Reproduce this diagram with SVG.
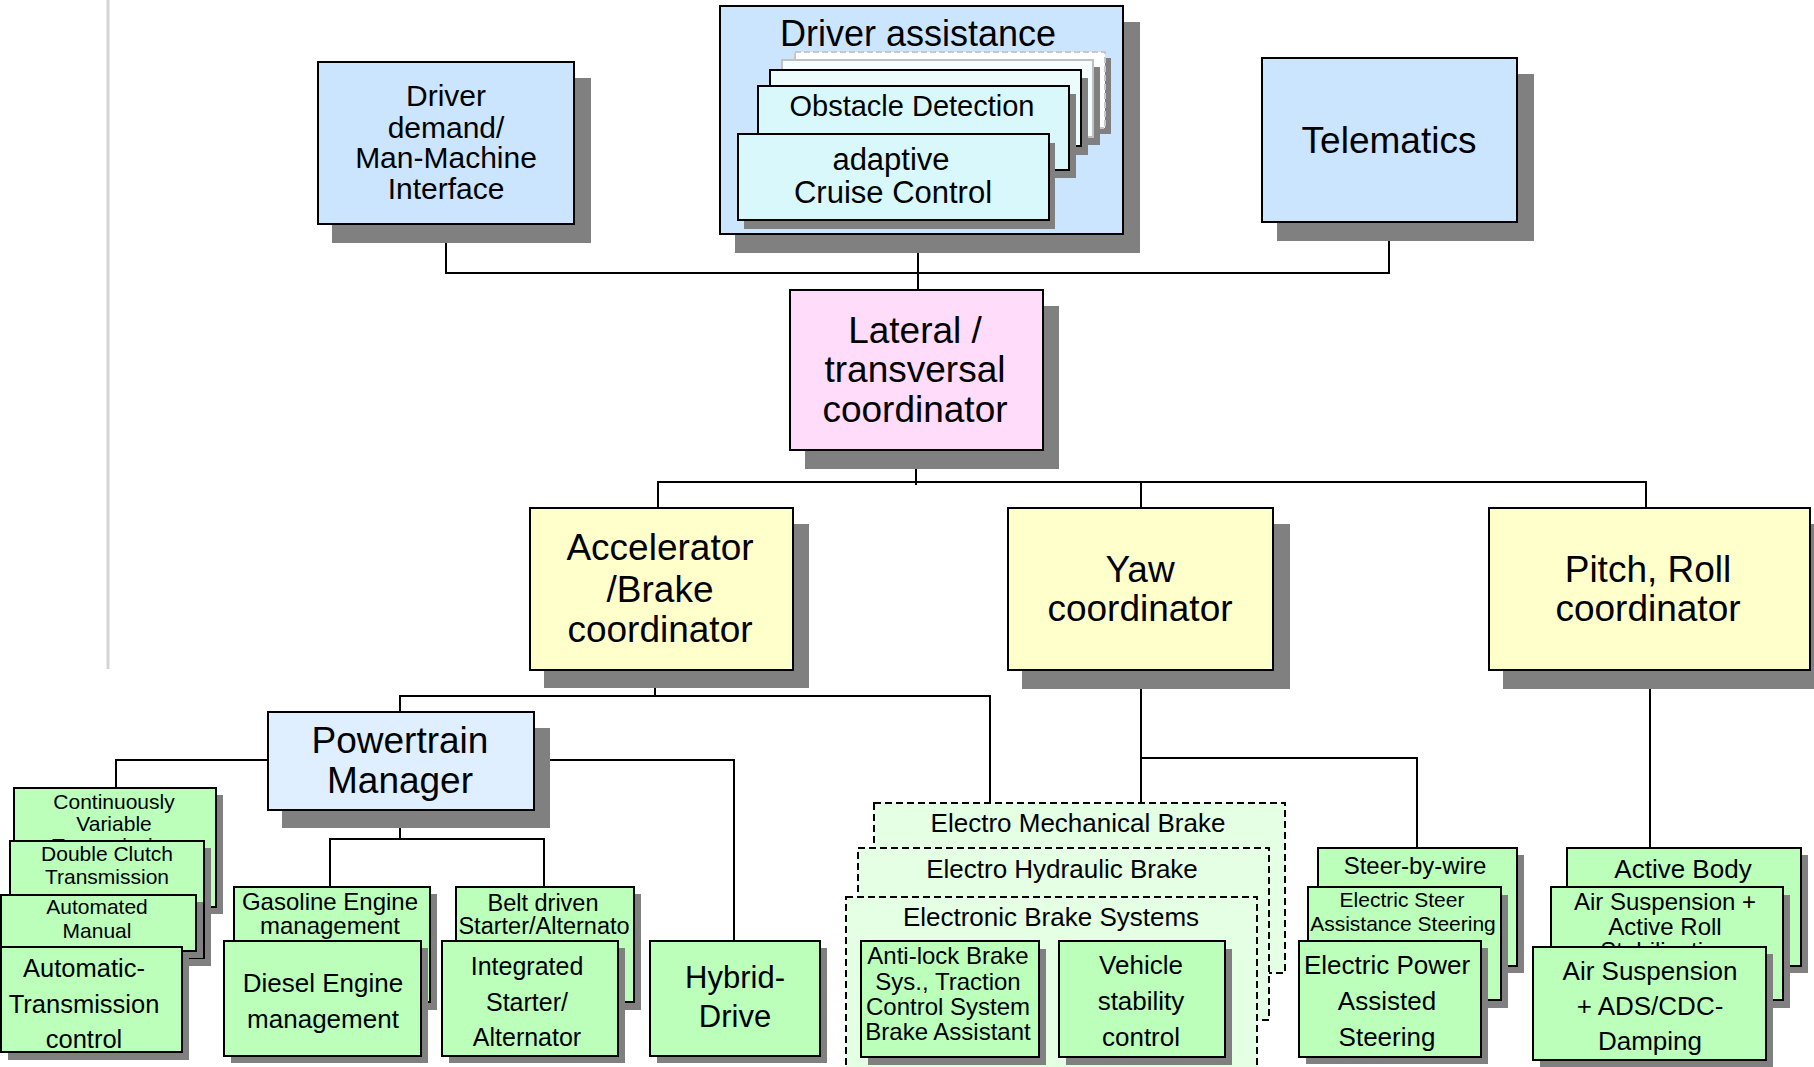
<svg xmlns="http://www.w3.org/2000/svg" width="1814" height="1067" viewBox="0 0 1814 1067">
<style>
text{font-family:"Liberation Sans",Arial,sans-serif;fill:#000;text-anchor:middle}
.sh{fill:#808080}
.bx{stroke:#000;stroke-width:2}
.blue{fill:#cce5ff}
.pm{fill:#dfefff}
.pink{fill:#ffdcfa}
.yel{fill:#ffffcc}
.grn{fill:#bbffbb}
.cyan{fill:#d8f8fc}
.dash{fill:#e4ffe4;stroke:#000;stroke-width:2;stroke-dasharray:7 4}
.ln{fill:none;stroke:#000;stroke-width:2}
</style>
<defs>
<clipPath id="clipCVT"><rect x="14" y="788" width="202" height="53"/></clipPath>
<clipPath id="clipAM"><rect x="1" y="895" width="195" height="52"/></clipPath>
<clipPath id="clipASARS"><rect x="1551" y="887" width="232" height="60"/></clipPath>
</defs>
<rect x="0" y="0" width="1814" height="1067" fill="#fff"/>
<line x1="108" y1="0" x2="108" y2="669" stroke="#d4d4d4" stroke-width="3"/>

<g id="connectors" class="ln">
<polyline points="446,224 446,273 1389,273 1389,222"/>
<line x1="918" y1="234" x2="918" y2="290"/>
<line x1="916" y1="450" x2="916" y2="485"/>
<polyline points="658,508 658,482 1646,482 1646,508"/>
<line x1="1141" y1="482" x2="1141" y2="508"/>
<line x1="655" y1="670" x2="655" y2="696"/>
<polyline points="400,712 400,696 990,696 990,803"/>
<polyline points="268,760 116,760 116,788"/>
<polyline points="534,760 734,760 734,941"/>
<line x1="400" y1="810" x2="400" y2="839"/>
<polyline points="330,887 330,839 544,839 544,887"/>
<line x1="1141" y1="670" x2="1141" y2="803"/>
<polyline points="1141,758 1417,758 1417,848"/>
<line x1="1650" y1="670" x2="1650" y2="848"/>
</g>

<g id="driver-demand">
<rect class="sh" x="332" y="78" width="259" height="165"/>
<rect class="bx blue" x="318" y="62" width="256" height="162"/>
<text font-size="30"><tspan x="446" y="106">Driver</tspan><tspan x="446" y="138">demand/</tspan><tspan x="446" y="168">Man-Machine</tspan><tspan x="446" y="199">Interface</tspan></text>
</g>

<g id="driver-assistance">
<rect class="sh" x="735" y="22" width="405" height="231"/>
<rect class="bx blue" x="720" y="6" width="403" height="228"/>
<text font-size="36" x="918" y="46">Driver assistance</text>
<rect class="sh" x="801" y="58" width="310" height="76"/>
<rect x="795" y="52" width="310" height="76" fill="#fff" stroke="#c8c8c8" stroke-width="2" stroke-dasharray="6 3"/>
<rect class="sh" x="788" y="67" width="312" height="78"/>
<rect x="782" y="60" width="311" height="77" fill="#f4fefe" stroke="#c0c0c0" stroke-width="2"/>
<rect class="sh" x="777" y="78" width="311" height="77"/>
<rect class="bx" x="770" y="70" width="311" height="76" fill="#ecfcfc"/>
<g id="obstacle-detection">
<rect class="sh" x="765" y="94" width="311" height="84"/>
<rect class="bx cyan" x="758" y="86" width="311" height="84"/>
<text font-size="29" x="912" y="116">Obstacle Detection</text>
</g>
<g id="adaptive-cruise-control">
<rect class="sh" x="744" y="143" width="311" height="86"/>
<rect class="bx cyan" x="738" y="134" width="311" height="86"/>
<text font-size="31"><tspan x="891" y="170">adaptive</tspan><tspan x="893" y="203">Cruise Control</tspan></text>
</g>
</g>

<g id="telematics">
<rect class="sh" x="1277" y="74" width="257" height="167"/>
<rect class="bx blue" x="1262" y="58" width="255" height="164"/>
<text font-size="37" x="1389" y="153">Telematics</text>
</g>

<g id="lateral-coordinator">
<rect class="sh" x="805" y="306" width="254" height="163"/>
<rect class="bx pink" x="790" y="290" width="253" height="160"/>
<text font-size="37"><tspan x="915" y="343">Lateral /</tspan><tspan x="915" y="382">transversal</tspan><tspan x="915" y="422">coordinator</tspan></text>
</g>

<g id="accelerator-brake-coordinator">
<rect class="sh" x="544" y="524" width="265" height="164"/>
<rect class="bx yel" x="530" y="508" width="263" height="162"/>
<text font-size="37"><tspan x="660" y="560">Accelerator</tspan><tspan x="660" y="602">/Brake</tspan><tspan x="660" y="642">coordinator</tspan></text>
</g>

<g id="yaw-coordinator">
<rect class="sh" x="1022" y="524" width="268" height="165"/>
<rect class="bx yel" x="1008" y="508" width="265" height="162"/>
<text font-size="37"><tspan x="1140" y="582">Yaw</tspan><tspan x="1140" y="621">coordinator</tspan></text>
</g>

<g id="pitch-roll-coordinator">
<rect class="sh" x="1503" y="524" width="320" height="165"/>
<rect class="bx yel" x="1489" y="508" width="321" height="162"/>
<text font-size="37"><tspan x="1648" y="582">Pitch, Roll</tspan><tspan x="1648" y="621">coordinator</tspan></text>
</g>

<g id="powertrain-manager">
<rect class="sh" x="282" y="728" width="268" height="100"/>
<rect class="bx pm" x="268" y="712" width="266" height="98"/>
<text font-size="37"><tspan x="400" y="753">Powertrain</tspan><tspan x="400" y="793">Manager</tspan></text>
</g>

<g id="continuously-variable-transmission">
<rect class="sh" x="21" y="795" width="202" height="119"/>
<rect class="bx grn" x="14" y="788" width="202" height="119"/>
<text font-size="21"><tspan x="114" y="809">Continuously</tspan><tspan x="114" y="831">Variable</tspan></text>
<text font-size="21" x="114" y="853" clip-path="url(#clipCVT)">Transmission</text>
</g>
<g id="double-clutch-transmission">
<rect class="sh" x="17" y="848" width="194" height="118"/>
<rect class="bx grn" x="10" y="841" width="194" height="117"/>
<text font-size="21"><tspan x="107" y="861">Double Clutch</tspan><tspan x="107" y="884">Transmission</tspan></text>
</g>
<g id="automated-manual-transmission">
<rect class="sh" x="8" y="902" width="195" height="56"/>
<rect class="bx grn" x="1" y="895" width="195" height="56"/>
<text font-size="21"><tspan x="97" y="914">Automated</tspan><tspan x="97" y="938">Manual</tspan></text>
<text font-size="21" x="97" y="961" clip-path="url(#clipAM)">Transmission</text>
</g>
<g id="automatic-transmission-control">
<rect class="sh" x="8" y="954" width="181" height="106"/>
<rect class="bx grn" x="1" y="947" width="181" height="105"/>
<text font-size="25.5"><tspan x="84" y="977">Automatic-</tspan><tspan x="84" y="1013">Transmission</tspan><tspan x="84" y="1048">control</tspan></text>
</g>

<g id="gasoline-engine-management">
<rect class="sh" x="241" y="894" width="196" height="116"/>
<rect class="bx grn" x="234" y="887" width="196" height="115"/>
<text font-size="24"><tspan x="330" y="910">Gasoline Engine</tspan><tspan x="330" y="934">management</tspan></text>
</g>
<g id="diesel-engine-management">
<rect class="sh" x="231" y="948" width="197" height="115"/>
<rect class="bx grn" x="224" y="941" width="197" height="115"/>
<text font-size="26"><tspan x="323" y="992">Diesel Engine</tspan><tspan x="323" y="1028">management</tspan></text>
</g>

<g id="belt-driven-starter-alternator">
<rect class="sh" x="463" y="894" width="178" height="116"/>
<rect class="bx grn" x="456" y="887" width="178" height="115"/>
<text font-size="23.5"><tspan x="543" y="911">Belt driven</tspan><tspan x="544" y="934">Starter/Alternato</tspan></text>
</g>
<g id="integrated-starter-alternator">
<rect class="sh" x="449" y="948" width="176" height="115"/>
<rect class="bx grn" x="442" y="941" width="176" height="115"/>
<text font-size="25"><tspan x="527" y="975">Integrated</tspan><tspan x="527" y="1011">Starter/</tspan><tspan x="527" y="1046">Alternator</tspan></text>
</g>

<g id="hybrid-drive">
<rect class="sh" x="657" y="948" width="170" height="115"/>
<rect class="bx grn" x="650" y="941" width="170" height="115"/>
<text font-size="31"><tspan x="735" y="988">Hybrid-</tspan><tspan x="735" y="1027">Drive</tspan></text>
</g>

<g id="electro-mechanical-brake">
<rect class="dash" x="874" y="803" width="411" height="170"/>
<text font-size="26" x="1078" y="832">Electro Mechanical Brake</text>
</g>
<g id="electro-hydraulic-brake">
<rect class="dash" x="858" y="848" width="411" height="172"/>
<text font-size="26" x="1062" y="878">Electro Hydraulic Brake</text>
</g>
<g id="electronic-brake-systems">
<rect class="dash" x="846" y="897" width="411" height="190"/>
<text font-size="26" x="1051" y="926">Electronic Brake Systems</text>
<g id="anti-lock-brake">
<rect class="sh" x="868" y="949" width="178" height="116"/>
<rect class="bx grn" x="861" y="941" width="178" height="116"/>
<text font-size="24"><tspan x="948" y="964">Anti-lock Brake</tspan><tspan x="948" y="990">Sys., Traction</tspan><tspan x="948" y="1015">Control System</tspan><tspan x="948" y="1040">Brake Assistant</tspan></text>
</g>
<g id="vehicle-stability-control">
<rect class="sh" x="1066" y="949" width="166" height="116"/>
<rect class="bx grn" x="1059" y="941" width="166" height="116"/>
<text font-size="26"><tspan x="1141" y="974">Vehicle</tspan><tspan x="1141" y="1010">stability</tspan><tspan x="1141" y="1046">control</tspan></text>
</g>
</g>

<g id="steer-by-wire">
<rect class="sh" x="1325" y="855" width="199" height="118"/>
<rect class="bx grn" x="1318" y="848" width="199" height="118"/>
<text font-size="24" x="1415" y="874">Steer-by-wire</text>
</g>
<g id="electric-steer-assistance-steering">
<rect class="sh" x="1315" y="895" width="193" height="113"/>
<rect class="bx grn" x="1308" y="887" width="193" height="113"/>
<text font-size="21"><tspan x="1402" y="907">Electric Steer</tspan><tspan x="1403" y="931">Assistance Steering</tspan></text>
</g>
<g id="electric-power-assisted-steering">
<rect class="sh" x="1306" y="948" width="182" height="116"/>
<rect class="bx grn" x="1299" y="941" width="182" height="116"/>
<text font-size="26"><tspan x="1387" y="974">Electric Power</tspan><tspan x="1387" y="1010">Assisted</tspan><tspan x="1387" y="1046">Steering</tspan></text>
</g>

<g id="active-body">
<rect class="sh" x="1574" y="855" width="234" height="118"/>
<rect class="bx grn" x="1567" y="848" width="234" height="118"/>
<text font-size="26" x="1683" y="878">Active Body</text>
</g>
<g id="air-suspension-active-roll">
<rect class="sh" x="1558" y="895" width="232" height="113"/>
<rect class="bx grn" x="1551" y="887" width="232" height="113"/>
<text font-size="24"><tspan x="1665" y="910">Air Suspension +</tspan><tspan x="1665" y="935">Active Roll</tspan></text>
<text font-size="24" x="1665" y="959" clip-path="url(#clipASARS)">Stabilisation</text>
</g>
<g id="air-suspension-ads-cdc-damping">
<rect class="sh" x="1540" y="954" width="233" height="114"/>
<rect class="bx grn" x="1533" y="947" width="233" height="113"/>
<text font-size="26"><tspan x="1650" y="980">Air Suspension</tspan><tspan x="1650" y="1015">+ ADS/CDC-</tspan><tspan x="1650" y="1050">Damping</tspan></text>
</g>
</svg>
